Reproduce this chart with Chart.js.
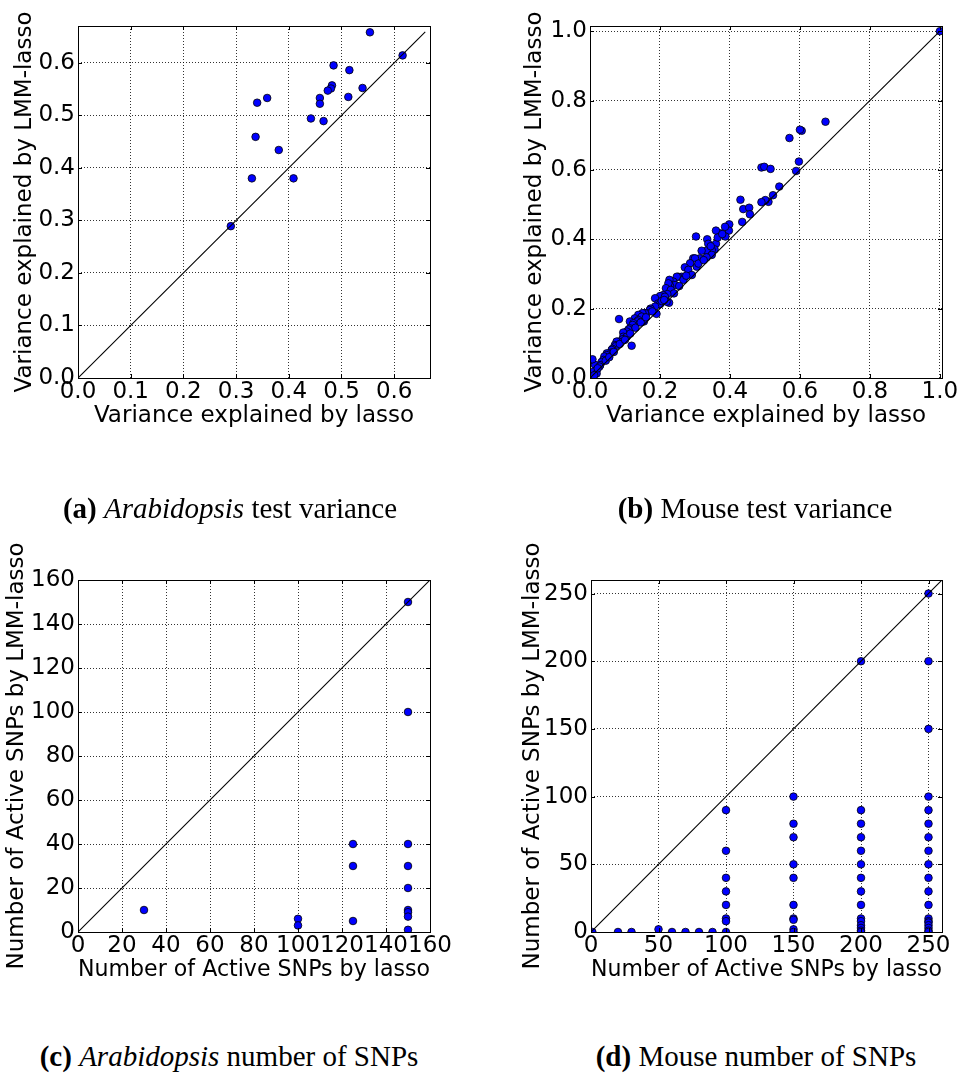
<!DOCTYPE html>
<html>
<head>
<meta charset="utf-8">
<script src="https://cdn.jsdelivr.net/npm/chart.js@4.4.1/dist/chart.umd.min.js"></script>
<style>
  body { margin: 0; background: #fff; width: 961px; height: 1079px; position: relative; overflow: hidden; }
  .panel { position: absolute; }
  .caption { position: absolute; font-family: "Liberation Serif", "Times New Roman", serif; font-size: 29px; color: #000; white-space: nowrap; transform: translate(-50%, -50%); }
</style>
</head>
<body>
<div class="panel" style="left:0;top:0;width:480px;height:440px"><canvas id="chartA"></canvas></div>
<div class="panel" style="left:500px;top:0;width:461px;height:440px"><canvas id="chartB"></canvas></div>
<div class="panel" style="left:0;top:514px;width:480px;height:480px"><canvas id="chartC"></canvas></div>
<div class="panel" style="left:500px;top:514px;width:461px;height:480px"><canvas id="chartD"></canvas></div>

<div class="caption" style="left:230px;top:508px"><b>(a)</b> <i>Arabidopsis</i> test variance</div>
<div class="caption" style="left:755px;top:508px"><b>(b)</b> Mouse test variance</div>
<div class="caption" style="left:229px;top:1056px"><b>(c)</b> <i>Arabidopsis</i> number of SNPs</div>
<div class="caption" style="left:756px;top:1056px"><b>(d)</b> Mouse number of SNPs</div>

<script>
// (a) Arabidopsis: test variance explained, lasso vs LMM-lasso
var arabVarLasso = [0.554, 0.616, 0.485, 0.515, 0.482, 0.480, 0.474, 0.540, 0.513, 0.459,
                    0.459, 0.359, 0.340, 0.442, 0.466, 0.337, 0.381, 0.330, 0.409, 0.290];
var arabVarLmm   = [0.658, 0.614, 0.595, 0.586, 0.557, 0.551, 0.547, 0.552, 0.535, 0.533,
                    0.522, 0.533, 0.524, 0.494, 0.489, 0.459, 0.434, 0.380, 0.380, 0.289];

// (b) Mouse: test variance explained
var mouseVarLasso = [1.000, 0.673, 0.605, 0.600, 0.570, 0.597, 0.589, 0.490, 0.498, 0.516,
  0.541, 0.523, 0.510, 0.501, 0.490, 0.430, 0.438, 0.455, 0.457, 0.435,
  0.398, 0.397, 0.386, 0.387, 0.373, 0.360, 0.303, 0.335, 0.338, 0.360,
  0.356, 0.348, 0.333, 0.319, 0.348, 0.333, 0.314, 0.295, 0.300, 0.286,
  0.305, 0.271, 0.281, 0.291, 0.271, 0.262, 0.252, 0.248, 0.267, 0.238,
  0.227, 0.243, 0.229, 0.224, 0.217, 0.231, 0.240, 0.221, 0.209, 0.200,
  0.214, 0.186, 0.226, 0.219, 0.195, 0.200, 0.186, 0.173, 0.171, 0.190,
  0.162, 0.157, 0.150, 0.138, 0.148, 0.128, 0.138, 0.154, 0.135, 0.114,
  0.124, 0.122, 0.114, 0.110, 0.105, 0.095, 0.083, 0.095, 0.105, 0.119,
  0.094, 0.081, 0.076, 0.071, 0.074, 0.064, 0.062, 0.059, 0.048, 0.048,
  0.041, 0.038, 0.033, 0.029, 0.014, 0.027, 0.019, 0.010, 0.019, 0.005,
  0.000, 0.007, 0.012, 0.022, 0.045, 0.055, 0.068, 0.085, 0.100, 0.115,
  0.130, 0.145, 0.160, 0.178, 0.205, 0.212, 0.255, 0.275, 0.310, 0.325,
  0.345, 0.365, 0.378];
var mouseVarLmm = [1.000, 0.739, 0.713, 0.716, 0.692, 0.624, 0.597, 0.607, 0.609, 0.603,
  0.552, 0.527, 0.508, 0.513, 0.507, 0.514, 0.487, 0.491, 0.472, 0.450,
  0.443, 0.425, 0.436, 0.408, 0.417, 0.425, 0.408, 0.400, 0.387, 0.387,
  0.371, 0.369, 0.367, 0.367, 0.355, 0.348, 0.345, 0.345, 0.345, 0.331,
  0.321, 0.319, 0.312, 0.297, 0.292, 0.292, 0.292, 0.292, 0.283, 0.278,
  0.283, 0.268, 0.265, 0.273, 0.259, 0.254, 0.244, 0.242, 0.239, 0.236,
  0.234, 0.230, 0.217, 0.220, 0.215, 0.213, 0.206, 0.200, 0.196, 0.185,
  0.187, 0.187, 0.187, 0.182, 0.177, 0.172, 0.167, 0.163, 0.163, 0.163,
  0.158, 0.153, 0.143, 0.140, 0.134, 0.131, 0.170, 0.119, 0.119, 0.093,
  0.112, 0.105, 0.105, 0.095, 0.092, 0.084, 0.081, 0.073, 0.071, 0.066,
  0.062, 0.052, 0.046, 0.037, 0.038, 0.033, 0.023, 0.018, 0.013, 0.004,
  0.052, 0.054, 0.008, 0.028, 0.050, 0.060, 0.075, 0.098, 0.110, 0.128,
  0.145, 0.160, 0.175, 0.192, 0.222, 0.225, 0.265, 0.295, 0.330, 0.340,
  0.380, 0.405, 0.415];

// (c) Arabidopsis: number of active SNPs
var arabSnpLasso = [150, 150, 150, 150, 150, 150, 150, 150, 150, 125, 125, 125, 100, 100, 30];
var arabSnpLmm   = [150, 100, 40, 30, 20, 10, 9, 7, 1, 40, 30, 5, 6, 3, 10];

// (d) Mouse: number of active SNPs
var mouseSnpLasso = [1, 20, 30, 50, 60, 70, 80, 90,
  100, 100, 100, 100, 100, 100, 100, 100,
  150, 150, 150, 150, 150, 150, 150, 150, 150, 150,
  200, 200, 200, 200, 200, 200, 200, 200, 200, 200, 200, 200, 200, 200, 200,
  250, 250, 250, 250, 250, 250, 250, 250, 250, 250, 250, 250, 250, 250, 250, 250, 250, 250, 250];
var mouseSnpLmm = [0, 0, 0, 2, 0, 0, 0, 0,
  90, 60, 40, 30, 20, 10, 8, 0,
  100, 80, 70, 50, 40, 20, 10, 9, 2, 0,
  200, 90, 80, 70, 60, 50, 40, 30, 20, 10, 8, 5, 3, 1, 0,
  250, 200, 150, 100, 90, 80, 70, 60, 50, 40, 30, 20, 10, 8, 7, 5, 3, 1, 0];

// tick values
var varTicksA = [0, 0.1, 0.2, 0.3, 0.4, 0.5, 0.6];
var varTicksB = [0, 0.2, 0.4, 0.6, 0.8, 1.0];
var snpTicksC = [0, 20, 40, 60, 80, 100, 120, 140, 160];
var snpTicksD = [0, 50, 100, 150, 200, 250];

var tickFont = { family: 'DejaVu Sans', size: 23 };

// black frame round the plot area, with short inward tick marks on all four sides
var framePlugin = {
  id: 'frame',
  afterDraw: function (chart) {
    var a = chart.chartArea, ctx = chart.ctx;
    ctx.save();
    ctx.strokeStyle = '#000';
    ctx.lineWidth = 1;
    ctx.strokeRect(Math.round(a.left) + 0.5, Math.round(a.top) + 0.5,
                   Math.round(a.right - a.left), Math.round(a.bottom - a.top));
    ctx.beginPath();
    chart.scales.x.ticks.forEach(function (t) {
      var px = Math.round(chart.scales.x.getPixelForValue(t.value)) + 0.5;
      ctx.moveTo(px, a.bottom); ctx.lineTo(px, a.bottom - 4);
      ctx.moveTo(px, a.top); ctx.lineTo(px, a.top + 4);
    });
    chart.scales.y.ticks.forEach(function (t) {
      var py = Math.round(chart.scales.y.getPixelForValue(t.value)) + 0.5;
      ctx.moveTo(a.left, py); ctx.lineTo(a.left + 4, py);
      ctx.moveTo(a.right, py); ctx.lineTo(a.right - 4, py);
    });
    ctx.stroke();
    ctx.restore();
  }
};

function toPoints(xs, ys) {
  return xs.map(function (x, i) { return { x: x, y: ys[i] }; });
}

function makePanel(id, cfg) {
  var ctx = document.getElementById(id).getContext('2d');
  function axis(max, ticks, title, isY) {
    return {
      type: 'linear',
      min: 0,
      max: max,
      afterBuildTicks: function (scale) {
        scale.ticks = ticks.map(function (v) { return { value: v }; });
      },
      afterFit: function (scale) {
        if (isY) scale.width = cfg.yWidth; else scale.height = 62;
      },
      ticks: {
        color: '#000',
        font: tickFont,
        padding: isY ? 3 : 0,
        maxRotation: 0,
        autoSkip: false,
        callback: function (v) { return v.toFixed(cfg.decimals); }
      },
      grid: { color: 'rgba(0,0,0,0.8)', lineWidth: 1, drawTicks: false },
      border: { display: false, dash: [1, 2] },
      title: {
        display: true,
        text: title,
        color: '#000',
        font: tickFont,
        padding: isY ? { top: cfg.yTitlePad, bottom: 0 } : { top: 0, bottom: 10 }
      }
    };
  }
  return new Chart(ctx, {
    type: 'scatter',
    data: {
      datasets: [{
        type: 'line',
        data: [{ x: 0, y: 0 }, { x: cfg.diag, y: cfg.diag }],
        borderColor: '#000',
        borderWidth: 1.1,
        pointRadius: 0
      }, {
        data: toPoints(cfg.xs, cfg.ys),
        backgroundColor: '#0000ff',
        borderColor: '#000',
        borderWidth: 0.8,
        pointRadius: 3.8
      }]
    },
    options: {
      responsive: true,
      maintainAspectRatio: false,
      animation: false,
      layout: { padding: { left: 0, top: cfg.padTop, right: cfg.padRight, bottom: 0 } },
      plugins: { legend: { display: false }, tooltip: { enabled: false } },
      scales: {
        x: axis(cfg.xMax, cfg.xTicks, cfg.xTitle, false),
        y: axis(cfg.yMax, cfg.yTicks, cfg.yTitle, true)
      }
    },
    plugins: [framePlugin]
  });
}

makePanel('chartA', {
  xs: arabVarLasso, ys: arabVarLmm, diag: 0.659, xMax: 0.668, yMax: 0.670,
  xTicks: varTicksA, yTicks: varTicksA, decimals: 1,
  xTitle: 'Variance explained by lasso', yTitle: 'Variance explained by LMM-lasso',
  yWidth: 78, yTitlePad: 11, padRight: 50, padTop: 26
});
makePanel('chartB', {
  xs: mouseVarLasso, ys: mouseVarLmm, diag: 1.0, xMax: 1.006, yMax: 1.015,
  xTicks: varTicksB, yTicks: varTicksB, decimals: 1,
  xTitle: 'Variance explained by lasso', yTitle: 'Variance explained by LMM-lasso',
  yWidth: 90, yTitlePad: 21, padRight: 19, padTop: 26
});
makePanel('chartC', {
  xs: arabSnpLasso, ys: arabSnpLmm, diag: 160, xMax: 160, yMax: 160,
  xTicks: snpTicksC, yTicks: snpTicksC, decimals: 0,
  xTitle: 'Number of Active SNPs by lasso', yTitle: 'Number of Active SNPs by LMM-lasso',
  yWidth: 78, yTitlePad: 3, padRight: 50, padTop: 66
});
makePanel('chartD', {
  xs: mouseSnpLasso, ys: mouseSnpLmm, diag: 260, xMax: 260, yMax: 260,
  xTicks: snpTicksD, yTicks: snpTicksD, decimals: 0,
  xTitle: 'Number of Active SNPs by lasso', yTitle: 'Number of Active SNPs by LMM-lasso',
  yWidth: 91, yTitlePad: 19, padRight: 19, padTop: 66
});
</script>
</body>
</html>
